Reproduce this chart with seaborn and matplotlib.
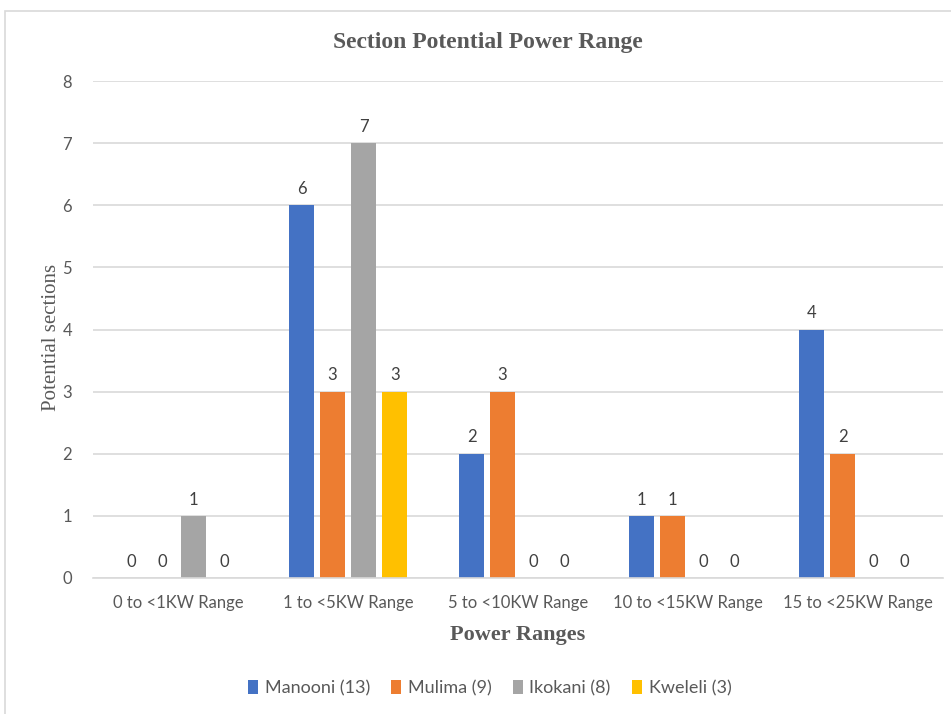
import matplotlib
matplotlib.use("Agg")
import matplotlib.pyplot as plt
import seaborn as sns
import pandas as pd
from matplotlib.patches import Rectangle

categories = ["0 to <1KW Range", "1 to <5KW Range", "5 to <10KW Range",
              "10 to <15KW Range", "15 to <25KW Range"]
series_names = ["Manooni (13)", "Mulima (9)", "Ikokani (8)", "Kweleli (3)"]
manooni = [0, 6, 2, 1, 4]
mulima = [0, 3, 3, 1, 2]
ikokani = [1, 7, 0, 0, 0]
kweleli = [0, 3, 0, 0, 0]
colors = ["#4472C4", "#ED7D31", "#A5A5A5", "#FFC000"]

rows = []
for name, vals in zip(series_names, [manooni, mulima, ikokani, kweleli]):
    for cat, v in zip(categories, vals):
        rows.append({"range": cat, "site": name, "count": v})
df = pd.DataFrame(rows)

sns.set_theme(style="white")
plt.rcParams["font.family"] = ["Lato", "DejaVu Sans"]
text_gray = "#595959"

fig = plt.figure(figsize=(9.51, 7.14), dpi=100)
ax = fig.add_axes([0.0978, 0.1905, 0.894, 0.696])

sns.barplot(data=df, x="range", y="count", hue="site", order=categories,
            hue_order=series_names, palette=colors, width=0.73, gap=0.19,
            saturation=1, ax=ax, legend=True, errorbar=None, linewidth=0,
            edgecolor="none")

for cont in ax.containers:
    ax.bar_label(cont, fmt="%d", padding=6, fontsize=12, color="#404040")

ax.set_ylim(0, 8)
ax.set_xlim(-0.5, 4.5)
ax.set_yticks(range(0, 9))
ax.yaxis.grid(True, color="#D9D9D9", linewidth=1.2)
ax.set_axisbelow(True)
for s in ["top", "right", "left"]:
    ax.spines[s].set_visible(False)
ax.spines["bottom"].set_color("#D9D9D9")
ax.spines["bottom"].set_linewidth(1.2)
ax.tick_params(axis="both", length=0, labelsize=12, labelcolor=text_gray)
ax.tick_params(axis="x", pad=12)
ax.tick_params(axis="y", pad=15)

ax.set_ylabel("Potential sections", family="Liberation Serif", fontsize=15,
              color=text_gray)
ax.yaxis.set_label_coords(-0.038, 0.485)
ax.set_xlabel("Power Ranges", family="Liberation Serif", fontsize=16,
              fontweight="bold", color=text_gray, labelpad=10)
fig.text(0.513, 0.94, "Section Potential Power Range", ha="center", va="center",
         family="Liberation Serif", fontsize=17, fontweight="bold", color=text_gray)

leg = ax.legend(loc="center", ncol=4, frameon=False,
                fontsize=13, handlelength=0.55, handleheight=0.85,
                handletextpad=0.35, columnspacing=1.2, labelcolor=text_gray)
leg.set_bbox_to_anchor((0.515, 0.036), transform=fig.transFigure)

fig.patches.append(Rectangle((5 / 951, -0.01), 1.0, 1 - 11 / 714 + 0.01,
                             transform=fig.transFigure, fill=False,
                             edgecolor="#D9D9D9", linewidth=1.2))

fig.savefig("out.png", dpi=100)
